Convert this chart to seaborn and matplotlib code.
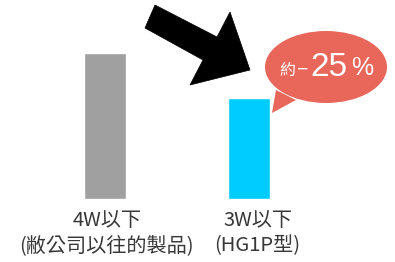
import matplotlib
matplotlib.use("Agg")
import matplotlib.pyplot as plt
import seaborn as sns
import pandas as pd
from matplotlib.patches import Polygon, Ellipse

categories = ["4W以下\n(敝公司以往的製品)", "3W以下\n(HG1P型)"]
values = [4.0, 2.77]
colors = ["#A0A0A0", "#00CCFF"]

sns.set_theme(style="white")
plt.rcParams['font.family'] = ['Noto Sans CJK TC', 'DejaVu Sans']

W, H = 395, 262
fig = plt.figure(figsize=(W / 100, H / 100), dpi=100)
ax = fig.add_axes([0, 0, 1, 1])

df = pd.DataFrame({"cat": categories, "val": values})
sns.barplot(data=df, x="cat", y="val", hue="cat", palette=colors,
            width=0.293, legend=False, ax=ax, saturation=1)

ax.set_xlim(-0.735, 2.018)
ax.set_ylim(-1.726, 5.452)
ax.axis("off")

def px(x, y):
    return (x / W, 1 - y / H)

# category labels
label_offsets = [0.01, 0.06]
for i, lab in enumerate(categories):
    line1, line2 = lab.split("\n")
    ax.text(i + label_offsets[i], px(0, 220)[1], line1, transform=ax.get_xaxis_transform(),
            ha="center", va="center", fontsize=14.5, color="#383838")
    ax.text(i + label_offsets[i], px(0, 246)[1], line2, transform=ax.get_xaxis_transform(),
            ha="center", va="center", fontsize=14.5, color="#383838")

# black arrow
arrow_pts = [(155, 5), (217, 37), (230, 12), (250, 70), (190, 85), (203, 60), (145, 28)]
ax.add_patch(Polygon([px(x, y) for x, y in arrow_pts], closed=True,
                     transform=ax.transAxes, facecolor="black", edgecolor="black", lw=0.5))

# speech bubble
bub = "#E8675A"
ax.add_patch(Ellipse(px(326, 67), 122 / W, 72 / H, transform=ax.transAxes,
                     facecolor=bub, edgecolor="none"))
tail = [(276, 90), (272, 113), (296, 100)]
ax.add_patch(Polygon([px(x, y) for x, y in tail], closed=True,
                     transform=ax.transAxes, facecolor=bub, edgecolor="none"))

ax.text(*px(279, 75), "約", transform=ax.transAxes, ha="left", va="baseline",
        fontsize=11.5, color="white")
ax.text(*px(297, 75), "−", transform=ax.transAxes, ha="left", va="baseline",
        fontsize=14, color="white", family=['Liberation Sans', 'DejaVu Sans'])
ax.text(*px(310, 76), "25", transform=ax.transAxes, ha="left", va="baseline",
        fontsize=24, color="white", family=['Liberation Sans'])
ax.text(*px(351, 75), "%", transform=ax.transAxes, ha="left", va="baseline",
        fontsize=18, color="white", family=['Liberation Sans'])

fig.savefig("out.png", dpi=100)
